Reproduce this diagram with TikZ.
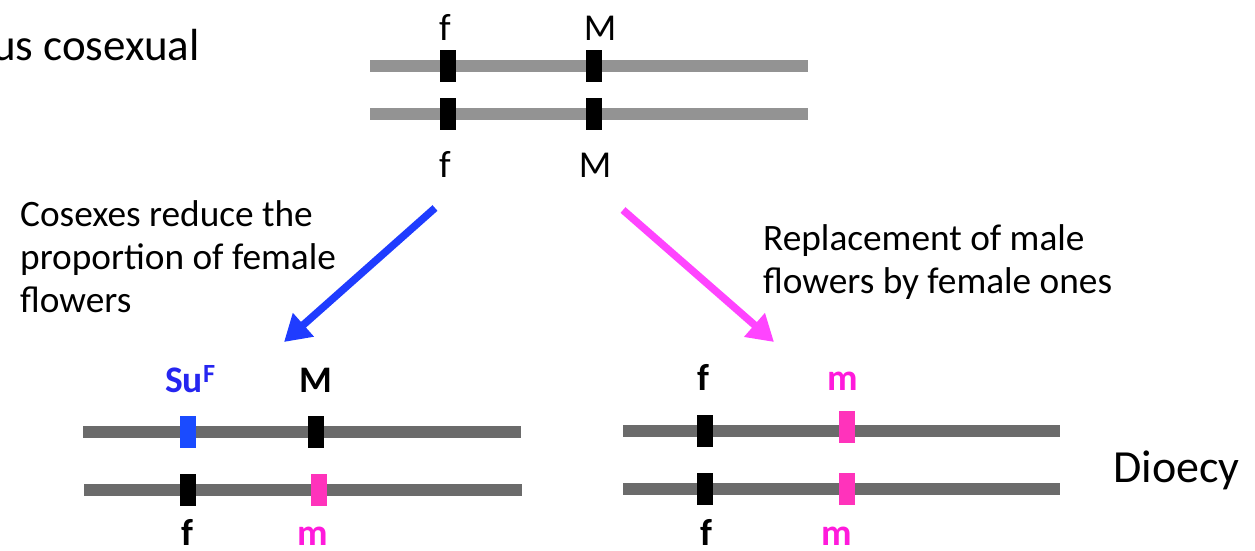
\documentclass[tikz,border=0pt]{standalone}
\usepackage{fontspec}
\setmainfont{Carlito}
\usetikzlibrary{arrows.meta}
\definecolor{chrlight}{HTML}{939393}
\definecolor{chrdark}{HTML}{6B6B6B}
\definecolor{arrblue}{HTML}{1F3CFF}
\definecolor{bandblue}{HTML}{1A4BFF}
\definecolor{txtblue}{HTML}{2626F0}
\definecolor{bandpink}{HTML}{FF33BB}
\definecolor{txtpink}{HTML}{FF1ADB}
\definecolor{arrpink}{HTML}{FF44FF}
\tikzset{
  chrtop/.style={draw=chrlight, line width=12pt},
  chrbot/.style={draw=chrdark, line width=11.5pt},
  band/.style={rectangle, inner sep=0pt, minimum width=16pt, minimum height=32pt, fill=#1, draw=none},
  gene/.style={anchor=base, inner sep=0pt, font=\fontsize{38}{45}\selectfont},
  geneb/.style={anchor=base, inner sep=0pt, font=\fontsize{37.5}{45}\selectfont\bfseries},
  lbl/.style={inner sep=0pt, align=left, font=\fontsize{37.3}{43}\selectfont},
  bigarrow/.style={line width=7.5pt, -{Triangle[length=26pt,width=30pt]}, shorten >=0pt}
}
\begin{document}
\begin{tikzpicture}[x=1pt,y=-1pt]
\useasboundingbox (0,0) rectangle (1255,550);
% title
\node[anchor=base east, inner sep=0pt, font=\fontsize{45}{54}\selectfont] (title) at (200,60) {us cosexual};
% top chromosomes
\draw[chrtop] (370,66) -- (808,66);
\draw[chrtop] (370,114) -- (808,114);
\node[band=black] (tf1) at (448,66) {};
\node[band=black] (tM1) at (594,66) {};
\node[band=black] (tf2) at (448,114) {};
\node[band=black] (tM2) at (594,114) {};
\node[gene] (ltf1) at (445,40) {f};
\node[gene] (ltM1) at (600,40) {M};
\node[gene] (ltf2) at (445,177) {f};
\node[gene] (ltM2) at (595,177) {M};
% arrows
\coordinate (bs) at (435,208);
\coordinate (be) at (284,342);
\coordinate (ps) at (623,210);
\coordinate (pe) at (774,342);
\draw[bigarrow, draw=arrblue, fill=arrblue] (bs) -- (be);
\draw[bigarrow, draw=arrpink, fill=arrpink] (ps) -- (pe);
% side texts
\node[lbl, anchor=north west] (ltxt) at (20,200) {Cosexes reduce the\\proportion of female\\flowers};
\node[lbl, anchor=north west] (rtxt) at (763,224) {Replacement of male\\flowers by female ones};
% bottom left chromosomes
\draw[chrbot] (83,432) -- (521,432);
\draw[chrbot] (84,490) -- (522,490);
\node[band=bandblue] (lSu) at (188,432) {};
\node[band=black] (lM) at (316,432) {};
\node[band=black] (lf) at (188,490) {};
\node[band=bandpink] (lm) at (318.5,490) {};
\node[geneb, text=txtblue, anchor=base west] (tSu) at (165,392) {Su\textsuperscript{F}};
\node[geneb] (tlM) at (316,392) {M};
\node[geneb] (tlf) at (187,545) {f};
\node[geneb, text=txtpink] (tlm) at (313,545) {m};
% bottom right chromosomes
\draw[chrbot] (623,431) -- (1060,431);
\draw[chrbot] (623,489) -- (1060,489);
\node[band=black] (rf1) at (705,431) {};
\node[band=bandpink] (rm1) at (846.5,427) {};
\node[band=black] (rf2) at (705,489) {};
\node[band=bandpink] (rm2) at (846.5,489) {};
\node[geneb] (trf1) at (703,390) {f};
\node[geneb, text=txtpink] (trm1) at (843,390) {m};
\node[geneb] (trf2) at (706,545) {f};
\node[geneb, text=txtpink] (trm2) at (837,545) {m};
% Dioecy
\node[anchor=base west, inner sep=0pt, font=\fontsize{46}{55}\selectfont] (dio) at (1113,482) {Dioecy};
\end{tikzpicture}
\end{document}
